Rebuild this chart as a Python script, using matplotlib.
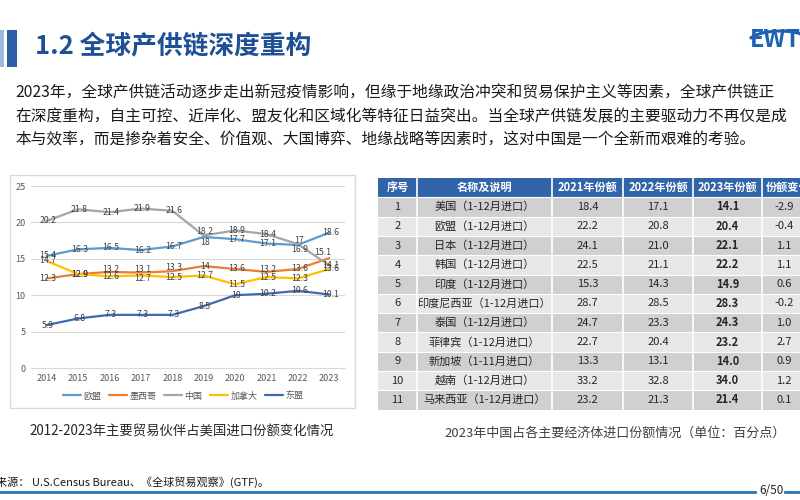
import matplotlib
matplotlib.use("Agg")
import matplotlib.pyplot as plt
from matplotlib.patches import Rectangle, Arc

plt.rcParams["font.family"] = ["Noto Sans CJK SC", "DejaVu Sans"]

# ---- line chart data: share of US imports (%) ----
years = ["2014", "2015", "2016", "2017", "2018", "2019", "2020", "2021", "2022", "2023"]
eu = [15.4, 16.3, 16.5, 16.2, 16.7, 18, 17.7, 17.1, 16.9, 18.6]
mexico = [12.3, 12.9, 13.2, 13.1, 13.3, 14, 13.6, 13.2, 13.6, 15.1]
china = [20.2, 21.8, 21.4, 21.9, 21.6, 18.2, 18.9, 18.4, 17, 14.1]
canada = [14.7, 12.9, 12.6, 12.7, 12.5, 12.7, 11.5, 12.5, 12.3, 13.6]
asean = [5.9, 6.8, 7.3, 7.3, 7.3, 8.5, 10, 10.2, 10.6, 10.1]
series_names = ["欧盟", "墨西哥", "中国", "加拿大", "东盟"]

# ---- table data: China's share of imports of major economies ----
tbl_header = ["序号", "名称及说明", "2021年份额", "2022年份额", "2023年份额", "份额变化"]
tbl_no = ["1", "2", "3", "4", "5", "6", "7", "8", "9", "10", "11"]
tbl_names = ["美国（1-12月进口）", "欧盟（1-12月进口）", "日本（1-12月进口）", "韩国（1-12月进口）",
             "印度（1-12月进口）", "印度尼西亚（1-12月进口）", "泰国（1-12月进口）",
             "菲律宾（1-12月进口）", "新加坡（1-11月进口）", "越南（1-12月进口）",
             "马来西亚（1-12月进口）"]
share_2021 = ["18.4", "22.2", "24.1", "22.5", "15.3", "28.7", "24.7", "22.7", "13.3", "33.2", "23.2"]
share_2022 = ["17.1", "20.8", "21.0", "21.1", "14.3", "28.5", "23.3", "20.4", "13.1", "32.8", "21.3"]
share_2023 = ["14.1", "20.4", "22.1", "22.2", "14.9", "28.3", "24.3", "23.2", "14.0", "34.0", "21.4"]
share_chg = ["-2.9", "-0.4", "1.1", "1.1", "0.6", "-0.2", "1.0", "2.7", "0.9", "1.2", "0.1"]

TITLE = "1.2 全球产供链深度重构"
PARA = ["2023年，全球产供链活动逐步走出新冠疫情影响，但缘于地缘政治冲突和贸易保护主义等因素，全球产供链正",
        "在深度重构，自主可控、近岸化、盟友化和区域化等特征日益突出。当全球产供链发展的主要驱动力不再仅是成",
        "本与效率，而是掺杂着安全、价值观、大国博弈、地缘战略等因素时，这对中国是一个全新而艰难的考验。"]
CHART_CAPTION = "2012-2023年主要贸易伙伴占美国进口份额变化情况"
TABLE_CAPTION = "2023年中国占各主要经济体进口份额情况（单位：百分点）"
SOURCE = "来源： U.S.Census Bureau、《全球贸易观察》(GTF)。"

W, H = 800, 500
fig = plt.figure(figsize=(W / 100, H / 100), dpi=100)

# full-page overlay in pixel coordinates
bg = fig.add_axes([0, 0, 1, 1])
bg.set_xlim(0, W)
bg.set_ylim(H, 0)
bg.axis("off")

# header: bars, title, logo
bg.add_patch(Rectangle((0, 30), 4, 37, color="#9db8de", lw=0))
bg.add_patch(Rectangle((7, 30), 10, 37, color="#2c5fa8", lw=0))
bg.text(35, 47, TITLE, fontsize=18.5, fontweight="bold", color="#1f4f94", va="center", ha="left")
bg.text(750, 40, "EWT", fontsize=17, fontweight="bold", color="#1c62b0", va="center", ha="left")
# swoosh under the logo letters
bg.add_patch(Arc((780, 44), 66, 26, theta1=190, theta2=345, color="#1c62b0", lw=2.2))

for i, line in enumerate(PARA):
    bg.text(15, 93 + i * 23.5, line, fontsize=11.3, color="#1a1a1a", va="center", ha="left")

# chart frame
bg.add_patch(Rectangle((10, 175), 345, 233, fill=False, ec="#d9d9d9", lw=1))
bg.text(182, 432, CHART_CAPTION, fontsize=9.6, color="#262626", ha="center", va="center")

# ---- line chart ----
ax = fig.add_axes([31 / W, (H - 368) / H, 314 / W, 182 / H])
colors = ["#5b9bd5", "#ed7d31", "#a5a5a5", "#ffc000", "#3f68b5"]
all_series = [eu, mexico, china, canada, asean]
x = list(range(len(years)))
# small label nudges (dx, dy in points) where the source deck moved labels
nudges = {(0, 5): (0, -4), (2, 5): (0, 3), (2, 8): (0, 3), (0, 8): (0, -3),
          (1, 9): (-6, 4), (1, 2): (0, 2), (1, 3): (0, 2), (1, 4): (0, 3),
          (1, 7): (0, 2), (3, 3): (0, -2)}
for si, (vals, col, name) in enumerate(zip(all_series, colors, series_names)):
    ax.plot(x, vals, color=col, lw=1.6, label=name, solid_capstyle="round")
    for xi, v in zip(x, vals):
        dx, dy = nudges.get((si, xi), (0, 0))
        ax.annotate(f"{v:g}", (xi, v), xytext=(dx + 1, dy), textcoords="offset points",
                    ha="center", va="center", fontsize=6.3, color="#404040")
ax.set_xlim(-0.5, len(years) - 0.5)
ax.set_ylim(0, 25)
ax.set_yticks([0, 5, 10, 15, 20, 25])
ax.set_xticks(x)
ax.set_xticklabels(years)
ax.grid(axis="y", color="#d9d9d9", lw=0.8)
ax.set_axisbelow(True)
for s in ["top", "right", "left"]:
    ax.spines[s].set_visible(False)
ax.spines["bottom"].set_color("#d9d9d9")
ax.tick_params(length=0, labelsize=6.5, labelcolor="#595959", pad=4)
ax.set_facecolor("none")
fig.legend(loc="center", bbox_to_anchor=(183 / W, (H - 396) / H), ncol=5, frameon=False,
           fontsize=6.5, handlelength=2.0, columnspacing=0.8, handletextpad=0.3,
           labelcolor="#595959")

# ---- table ----
col_edges = [378, 417, 552, 623, 693, 762, 840]
head_top, head_bot = 178, 197.3
row_h = 19.3
for ci in range(len(tbl_header)):
    x0, x1 = col_edges[ci], col_edges[ci + 1]
    bg.add_patch(Rectangle((x0, head_top), x1 - x0, head_bot - head_top, color="#3164a8", lw=0))
    if ci < 5:
        bg.text((x0 + x1) / 2, (head_top + head_bot) / 2, tbl_header[ci],
                fontsize=8, fontweight="bold", color="white", ha="center", va="center")
    else:
        bg.text(766, (head_top + head_bot) / 2, tbl_header[ci],
                fontsize=8, fontweight="bold", color="white", ha="left", va="center")
columns = [tbl_no, tbl_names, share_2021, share_2022, share_2023, share_chg]
for ri in range(len(tbl_no)):
    y0 = head_bot + ri * row_h
    shade = "#d0d0d0" if ri % 2 == 0 else "#e7e7e7"
    for ci, col in enumerate(columns):
        x0, x1 = col_edges[ci], col_edges[ci + 1]
        bg.add_patch(Rectangle((x0, y0), x1 - x0, row_h, color=shade, lw=0))
        cx = (x0 + x1) / 2 if ci < 5 else 784
        bg.text(cx, y0 + row_h / 2, col[ri], fontsize=8, color="#262626",
                fontweight="bold" if ci == 4 else "normal", ha="center", va="center")
    bg.plot([col_edges[0], W], [y0, y0], color="white", lw=0.8)
for xe in col_edges[1:-1]:
    bg.plot([xe, xe], [head_top, head_bot + row_h * len(tbl_no)], color="white", lw=1.2)
bg.text(615, 433, TABLE_CAPTION, fontsize=9.4, color="#404040", ha="center", va="center")

# ---- footer ----
bg.text(-4, 482, SOURCE, fontsize=8, color="#1a1a1a", ha="left", va="center")
bg.plot([0, 755], [491.5, 491.5], color="#2e75b6", lw=2)
bg.plot([785, W], [491.5, 491.5], color="#2e75b6", lw=2)
bg.text(772, 491, "6/50", fontsize=8.5, style="italic", color="#262626", ha="center", va="center")

fig.savefig("out.png", dpi=100)
